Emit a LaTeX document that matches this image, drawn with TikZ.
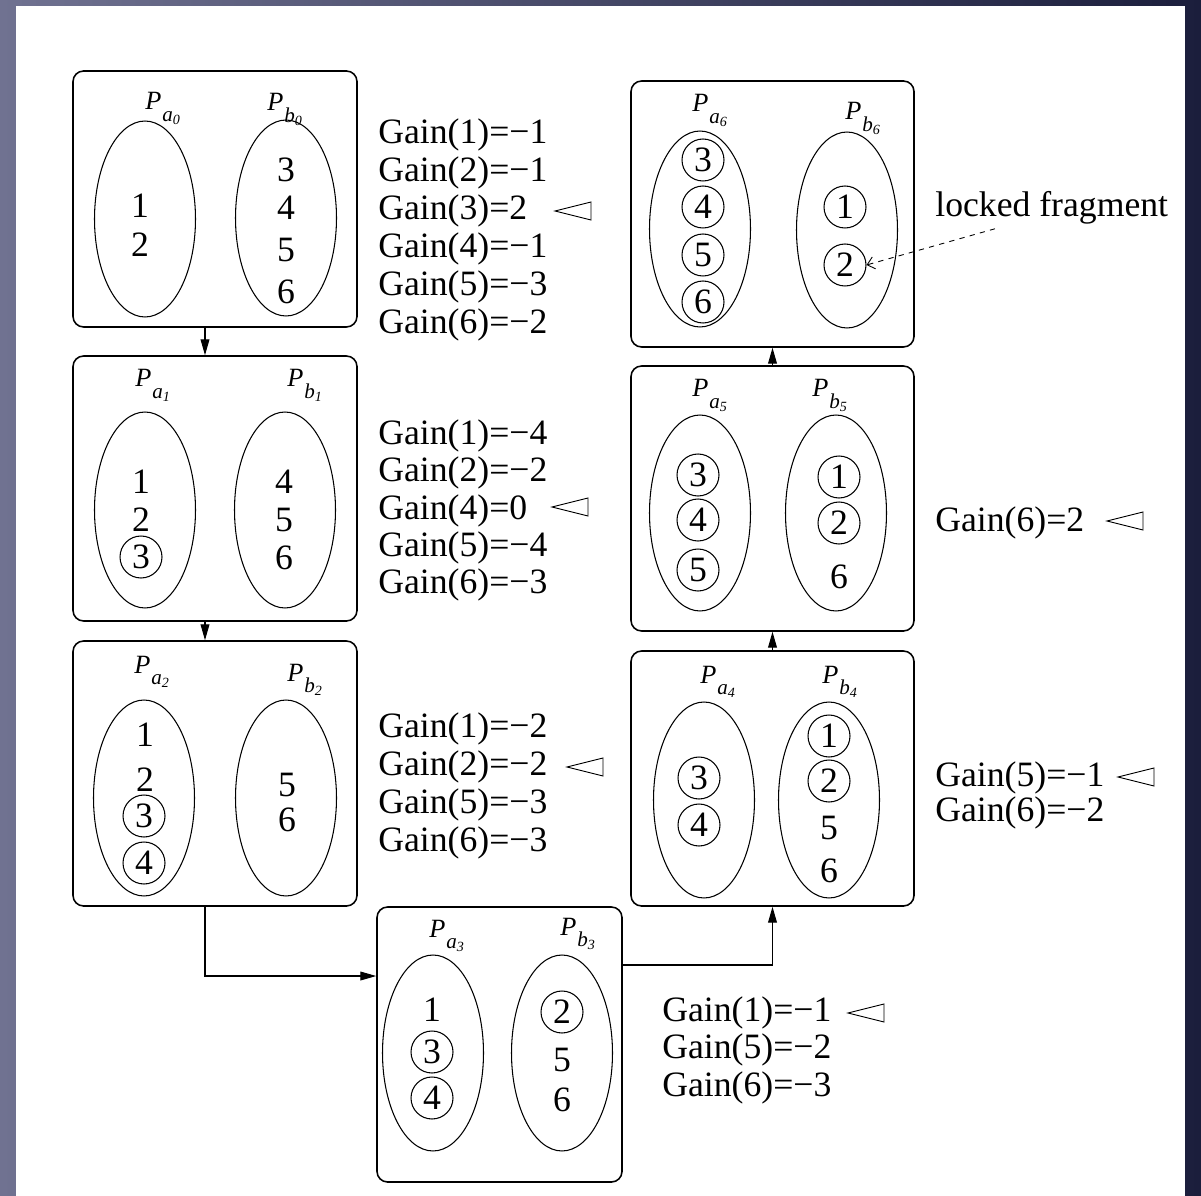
\documentclass[tikz,border=0pt]{standalone}
\usepackage{fontspec}
\setmainfont{Liberation Serif}
\usetikzlibrary{arrows.meta,shapes.geometric,fit}
\definecolor{bgl}{RGB}{112,114,145}
\definecolor{bgr}{RGB}{27,30,60}
\newcommand{\plab}[2]{{\fontsize{15}{16}\selectfont\textit{P}}\kern0.5pt\raisebox{-6.8pt}{\fontsize{12}{13}\selectfont\textit{#1}}\raisebox{-8.5pt}{\fontsize{8}{9}\selectfont\textit{#2}}}

\begin{document}
\begin{tikzpicture}[x=0.02cm,y=-0.02cm,font=\fontsize{20.3}{22}\selectfont,
    stage/.style={draw,rounded corners=6pt,line width=0.9pt,inner sep=0pt},
    part/.style={ellipse,draw,line width=0.6pt,minimum width=2.02cm,minimum height=3.92cm,inner sep=0pt},
    lab/.style={anchor=base west,inner sep=0pt},
    num/.style={inner sep=0pt},
    lock/.style={circle,draw,line width=0.6pt,minimum size=0.84cm,inner sep=0pt},
    gain/.style={anchor=west,inner sep=0pt},
    flow/.style={line width=0.6pt,-{Triangle[length=9pt,width=5pt]}}]

    \useasboundingbox (0,0) rectangle (1201,1196);
    \shade[left color=bgl,right color=bgr] (0,0) rectangle (1201,1196);
    \fill[white] (16,6) rectangle (1185,1196);

    % stages
    \node[stage,fit={(73,71) (357,327)}] (st0) {};
    \node[stage,fit={(73,356) (357,621)}] (st1) {};
    \node[stage,fit={(73,641) (357,906)}] (st2) {};
    \node[stage,fit={(377,907) (622,1182)}] (st3) {};
    \node[stage,fit={(631,651) (914,906)}] (st4) {};
    \node[stage,fit={(631,366) (914,631)}] (st5) {};
    \node[stage,fit={(631,81) (914,347)}] (st6) {};

    \draw[flow] ([xshift=-0.2cm]st0.south) -- ([xshift=-0.2cm]st1.north);
    \draw[flow] ([xshift=-0.2cm]st1.south) -- ([xshift=-0.2cm]st2.north);
    \draw[flow] ([xshift=-0.2cm]st2.south) |- ([yshift=1.37cm]st3.west);
    \draw[flow] ([yshift=1.59cm]st3.east) -| (st4.south);
    \draw[flow] (st4.north) -- (st5.south);
    \draw[flow] (st5.north) -- (st6.south);

    % step 0
    \node[part] (pa0) at (145,219) {};
    \node[part] (pb0) at (286,218) {};
    \node[lab] (la0) at (145,110) {\plab{a}{0}};
    \node[lab] (lb0) at (267,111) {\plab{b}{0}};
    \foreach \n/\y in {1/206,2/245} \node[num] (a0-\n) at (140,\y) {\n};
    \foreach \n/\y in {3/170,4/208,5/250,6/292} \node[num] (b0-\n) at (286,\y) {\n};
    \foreach \t [count=\i] in {Gain(1)=−1,Gain(2)=−1,Gain(3)=2,Gain(4)=−1,Gain(5)=−3,Gain(6)=−2}
      \node[gain] (g0-\i) at (378,97+38*\i) {\t};

    % step 1
    \node[part] (pa1) at (145,510) {};
    \node[part] (pb1) at (285,510) {};
    \node[lab] (la1) at (135,387) {\plab{a}{1}};
    \node[lab] (lb1) at (287,387) {\plab{b}{1}};
    \foreach \n/\y in {1/482,2/520} \node[num] (a1-\n) at (141,\y) {\n};
    \node[lock] (a1-3) at (141,557) {3};
    \foreach \n/\y in {4/482,5/520,6/558} \node[num] (b1-\n) at (284,\y) {\n};
    \foreach \t [count=\i] in {Gain(1)=−4,Gain(2)=−2,Gain(4)=0,Gain(5)=−4,Gain(6)=−3}
      \node[gain] (g1-\i) at (378,398.75+37.25*\i) {\t};

    % step 2
    \node[part] (pa2) at (144,798) {};
    \node[part] (pb2) at (286,798) {};
    \node[lab] (la2) at (134,673) {\plab{a}{2}};
    \node[lab] (lb2) at (287,681) {\plab{b}{2}};
    \foreach \n/\y in {1/735,2/780} \node[num] (a2-\n) at (145,\y) {\n};
    \foreach \n/\y in {3/816,4/863} \node[lock] (a2-\n) at (144,\y) {\n};
    \foreach \n/\y in {5/785,6/820} \node[num] (b2-\n) at (287,\y) {\n};
    \foreach \t [count=\i] in {Gain(1)=−2,Gain(2)=−2,Gain(5)=−3,Gain(6)=−3}
      \node[gain] (g2-\i) at (378,691+38*\i) {\t};

    % step 3
    \node[part] (pa3) at (433,1053) {};
    \node[part] (pb3) at (562,1053) {};
    \node[lab] (la3) at (429,937) {\plab{a}{3}};
    \node[lab] (lb3) at (560,935) {\plab{b}{3}};
    \node[num] (a3-1) at (432,1010) {1};
    \foreach \n/\y in {3/1052,4/1098} \node[lock] (a3-\n) at (432,\y) {\n};
    \node[lock] (b3-2) at (562,1012) {2};
    \foreach \n/\y in {5/1060,6/1100} \node[num] (b3-\n) at (562,\y) {\n};
    \node[gain] (g3-1) at (662,1013) {Gain(1)=−1};
    \node[gain] (g3-2) at (662,1050) {Gain(5)=−2};
    \node[gain] (g3-3) at (662,1088) {Gain(6)=−3};

    % step 4
    \node[part] (pa4) at (704,800) {};
    \node[part] (pb4) at (829,800) {};
    \node[lab] (la4) at (700,683) {\plab{a}{4}};
    \node[lab] (lb4) at (822,683) {\plab{b}{4}};
    \foreach \n/\y in {3/778,4/825} \node[lock] (a4-\n) at (699,\y) {\n};
    \foreach \n/\y in {1/736,2/781} \node[lock] (b4-\n) at (829,\y) {\n};
    \foreach \n/\y in {5/828,6/871} \node[num] (b4-\n) at (829,\y) {\n};
    \node[gain] (g4-1) at (935,778) {Gain(5)=−1};
    \node[gain] (g4-2) at (935,813) {Gain(6)=−2};

    % step 5
    \node[part] (pa5) at (700,513) {};
    \node[part] (pb5) at (836,513) {};
    \node[lab] (la5) at (692,397) {\plab{a}{5}};
    \node[lab] (lb5) at (812,397) {\plab{b}{5}};
    \foreach \n/\y in {3/475,4/520,5/570} \node[lock] (a5-\n) at (698,\y) {\n};
    \foreach \n/\y in {1/477,2/523} \node[lock] (b5-\n) at (839,\y) {\n};
    \node[num] (b5-6) at (839,577) {6};
    \node[gain] (g5-1) at (935,523) {Gain(6)=2};

    % step 6
    \node[part] (pa6) at (700,229) {};
    \node[part] (pb6) at (847,230) {};
    \node[lab] (la6) at (692,112) {\plab{a}{6}};
    \node[lab] (lb6) at (845,120) {\plab{b}{6}};
    \foreach \n/\y in {3/160,4/207,5/255,6/302} \node[lock] (a6-\n) at (703,\y) {\n};
    \foreach \n/\y in {1/207,2/265} \node[lock] (b6-\n) at (845,\y) {\n};

    \node[gain] (lockfrag) at (935,208) {locked fragment};
    \draw[dashed,line width=0.5pt,-{Straight Barb[length=4pt,width=7pt]}]
      ([xshift=1.2cm,yshift=-0.08cm]lockfrag.south west) -- (b6-2.east);

    % chosen moves
    \foreach \x/\y in {555/211,552/507,567/767,848/1013,1107/521,1118/777}
      \draw[line width=0.5pt] (\x,\y) -- ++(36,-9) -- ++(0,18) -- cycle;

\end{tikzpicture}
\end{document}
